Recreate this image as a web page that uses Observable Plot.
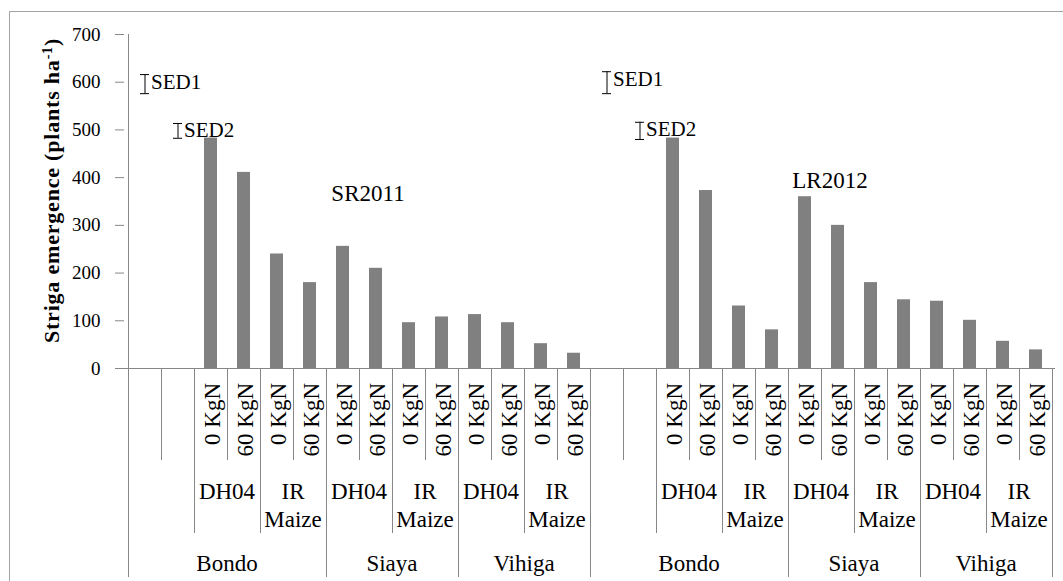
<!DOCTYPE html>
<html>
<head>
<meta charset="utf-8">
<script src="https://cdn.jsdelivr.net/npm/d3@7"></script>
<script src="https://cdn.jsdelivr.net/npm/@observablehq/plot@0.6"></script>
<style>
  html, body { margin: 0; padding: 0; background: #fff; overflow: hidden; }
  #chart svg { display: block; }
  #chart svg text, #chart svg tspan { font-family: "Liberation Serif", "Times New Roman", "DejaVu Serif", serif; }
</style>
</head>
<body>
<div id="chart"></div>
<script>
// Category levels of the x axis (season > site > variety > N rate)
const seasons = ["SR2011", "LR2012"];
const sites = ["Bondo", "Siaya", "Vihiga"];
const varieties = ["DH04", "IR Maize"];
const nRates = ["0 KgN", "60 KgN"];

// Striga emergence (plants ha-1), ordered site > variety > N rate
const emergenceSR2011 = [483, 411, 240, 180, 256, 210, 96, 108, 113, 96, 52, 32];
const emergenceLR2012 = [483, 373, 131, 81, 360, 300, 180, 144, 141, 101, 57, 39];

// Standard errors of difference, drawn as I-beams in the two empty slots of each season
const sedNames = ["SED1", "SED2"];
const sedSR2011 = [40, 31];
const sedLR2012 = [46, 36];
const sedCentreSR2011 = [596, 498];
const sedCentreLR2012 = [599, 498];

// Season captions and the emergence level they sit at
const seasonCaptionLevel = [366, 393];

const yTicks = [0, 100, 200, 300, 400, 500, 600, 700];

const font = "Liberation Serif, Times New Roman, DejaVu Serif, serif";
const gray = "#878787";
const barFill = "#808080";

// One category per x slot: two empty slots, then site x variety x N rate
const cats = [];
seasons.forEach(season => {
  ["gap1", "gap2"].forEach(g => cats.push({season, site: sites[0], variety: null, n: null, key: `${season}|${g}`}));
  sites.forEach(site => varieties.forEach(variety => nRates.forEach(n =>
    cats.push({season, site, variety, n, key: `${season}|${site}|${variety}|${n}`}))));
});
const keys = cats.map(c => c.key);

const emergence = {SR2011: emergenceSR2011, LR2012: emergenceLR2012};
const bars = cats.filter(c => c.n).map(c => {
  const idx = sites.indexOf(c.site) * 4 + varieties.indexOf(c.variety) * 2 + nRates.indexOf(c.n);
  return {key: c.key, value: emergence[c.season][idx]};
});

const sedValues = {SR2011: sedSR2011, LR2012: sedLR2012};
const sedCentres = {SR2011: sedCentreSR2011, LR2012: sedCentreLR2012};
const seds = seasons.flatMap(season => sedNames.map((name, k) => {
  const c = sedCentres[season][k], s = sedValues[season][k];
  return {key: `${season}|gap${k + 1}`, name, lo: c - s / 2, hi: c + s / 2};
}));

const seasonCaptions = seasons.map((season, k) => ({
  season, key: `${season}|Siaya|DH04|60 KgN`, level: seasonCaptionLevel[k]
}));

const chart = Plot.plot({
  width: 1063,
  height: 581,
  marginTop: 34,
  marginRight: 8,
  marginBottom: 213,
  marginLeft: 124,
  style: {fontFamily: font, fontSize: "19px", color: "#000", background: "transparent"},
  x: {type: "band", domain: keys, paddingInner: 0, paddingOuter: 0, axis: null},
  y: {domain: [0, 700], axis: null},
  marks: [
    Plot.axisY({ticks: yTicks, tickSize: 9, tickPadding: 15, stroke: gray, fill: "#000", fontSize: 19, label: null}),
    Plot.barY(bars, {x: "key", y: "value", fill: barFill, insetLeft: 10, insetRight: 10}),
    Plot.ruleY([0], {stroke: gray}),
    Plot.ruleX(seds, {x: "key", y1: "lo", y2: "hi", stroke: "#000"}),
    Plot.tickY(seds, {x: "key", y: "lo", stroke: "#000", insetLeft: 12, insetRight: 12}),
    Plot.tickY(seds, {x: "key", y: "hi", stroke: "#000", insetLeft: 12, insetRight: 12}),
    Plot.text(seds, {x: "key", y: "hi", text: "name", textAnchor: "start", lineAnchor: "top", dx: 6, dy: -1, fontSize: 21, fill: "#000"}),
    Plot.text(seasonCaptions, {x: "key", y: "level", text: "season", dx: -8, fontSize: 23, fill: "#000"})
  ]
});
document.getElementById("chart").append(chart);

// Value axis line, outer border and the multi-level category table
const svg = d3.select(chart);
const xs = chart.scale("x"), ys = chart.scale("y");
const bw = xs.bandwidth;
const xAt = k => xs.apply(k);
const base = ys.apply(0);
const left = xAt(keys[0]);

const border = svg.insert("g", ":first-child").attr("stroke", "#a3a3a3");
border.append("line").attr("x1", 9.5).attr("x2", 1063).attr("y1", 11.5).attr("y2", 11.5);
border.append("line").attr("x1", 9.5).attr("x2", 9.5).attr("y1", 11.5).attr("y2", 581);

svg.append("line")
  .attr("x1", left + 0.5).attr("x2", left + 0.5)
  .attr("y1", ys.apply(700)).attr("y2", base + 0.5)
  .attr("stroke", gray);

const table = svg.append("g").attr("fill", "#000");
const depth = [0, 92, 165, 209];
for (let i = 0; i <= cats.length; i++) {
  const a = cats[i - 1], b = cats[i];
  const level = !a || !b || a.season !== b.season || a.site !== b.site ? 3 : a.variety !== b.variety ? 2 : 1;
  const x = Math.round(b ? xAt(b.key) : xAt(a.key) + bw) + 0.5;
  table.append("line")
    .attr("x1", x).attr("x2", x)
    .attr("y1", base).attr("y2", base + depth[level])
    .attr("stroke", gray);
}

// N rate labels, rotated
cats.filter(c => c.n).forEach(c => {
  table.append("text")
    .attr("transform", `translate(${xAt(c.key) + bw / 2 + 9},${base + 15}) rotate(-90)`)
    .attr("text-anchor", "end")
    .attr("font-size", 23)
    .text(c.n);
});

// Consecutive runs of categories sharing a group id
function runs(idOf) {
  const out = [];
  cats.forEach((c, i) => {
    const id = idOf(c);
    if (id == null) return;
    const last = out[out.length - 1];
    if (last && last.id === id && last.end === i) last.end = i + 1;
    else out.push({id, start: i, end: i + 1, cat: c});
  });
  return out;
}
const runCentre = r => (xAt(keys[r.start]) + xAt(keys[r.end - 1]) + bw) / 2;

runs(c => c.variety ? `${c.season}|${c.site}|${c.variety}` : null).forEach(r => {
  r.cat.variety.split(" ").forEach((word, k) => {
    table.append("text")
      .attr("x", runCentre(r)).attr("y", base + 131 + k * 28)
      .attr("text-anchor", "middle").attr("font-size", 23)
      .text(word);
  });
});

runs(c => `${c.season}|${c.site}`).forEach(r => {
  table.append("text")
    .attr("x", runCentre(r)).attr("y", base + 203)
    .attr("text-anchor", "middle").attr("font-size", 23)
    .text(r.cat.site);
});

// Value axis title
const title = svg.append("text")
  .attr("transform", `translate(${left - 69},${ys.apply(372)}) rotate(-90)`)
  .attr("text-anchor", "middle")
  .attr("font-weight", "bold").attr("font-size", 22)
  .attr("letter-spacing", 0.8)
  .attr("fill", "#000");
title.append("tspan").text("Striga emergence (plants ha");
title.append("tspan").attr("baseline-shift", "super").attr("font-size", 14).text("-1");
title.append("tspan").text(")");
</script>
</body>
</html>
